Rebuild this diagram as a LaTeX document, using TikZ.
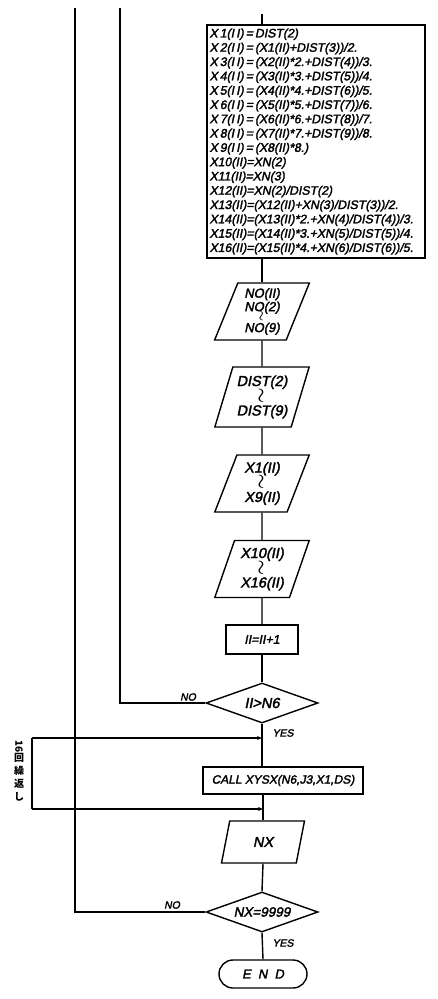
\documentclass[tikz,border=0pt]{standalone}
\usepackage{fontspec}
\usepackage{amsmath}
\setmainfont{Liberation Sans}
\newfontfamily\flowfont[FakeSlant=0.2,FakeBold=2.2]{Liberation Sans}
\newfontfamily\cjk{Noto Sans CJK JP}
\usetikzlibrary{shapes.geometric,arrows.meta}

% vertical "through" mark used in the I/O lists
\newcommand{\thru}{\rotatebox{90}{\fontsize{17}{17}\selectfont$\boldsymbol{\sim}$}}
\newcommand{\thrusmall}{\rotatebox{90}{\fontsize{13}{13}\selectfont$\boldsymbol{\sim}$}}

\begin{document}
\begin{tikzpicture}[x=1pt,y=-1pt,
  flow/.style={line width=1.4pt},
  txt/.style={font=\flowfont\fontsize{12.5}{13}\selectfont},
  iotxt/.style={font=\flowfont\fontsize{14.5}{14}\selectfont},
  iobox/.style={trapezium, trapezium left angle=70, trapezium right angle=110,
    trapezium stretches=true, draw, flow, iotxt, minimum width=95pt,
    minimum height=57pt, inner sep=0pt, align=center},
  procbox/.style={rectangle, draw, flow, txt, inner sep=2pt},
  decide/.style={diamond, draw, flow, font=\flowfont\fontsize{14.5}{14}\selectfont,
    aspect=2.8, inner sep=0pt, minimum width=112pt, minimum height=40pt},
  term/.style={rectangle, rounded corners=14pt, draw, flow, txt,
    minimum width=88pt, minimum height=28pt},
  lbl/.style={font=\flowfont\fontsize{10.5}{12}\selectfont, inner sep=0pt},
  arr/.style={flow, -{Stealth[length=5pt,width=4pt]}}
]
\useasboundingbox (0,0) rectangle (437,999);

% computation block
\node[procbox, minimum width=218pt, minimum height=233pt, text width=213pt,
      inner xsep=2pt, align=left, font=\flowfont\fontsize{12.3}{14.3}\selectfont]
  (big) at (316,141.5) {%
X\,1(I\,I)\,=\,DIST(2)\\
X\,2(I\,I)\,=\,(X1(II)+DIST(3))/2.\\
X\,3(I\,I)\,=\,(X2(II)*2.+DIST(4))/3.\\
X\,4(I\,I)\,=\,(X3(II)*3.+DIST(5))/4.\\
X\,5(I\,I)\,=\,(X4(II)*4.+DIST(6))/5.\\
X\,6(I\,I)\,=\,(X5(II)*5.+DIST(7))/6.\\
X\,7(I\,I)\,=\,(X6(II)*6.+DIST(8))/7.\\
X\,8(I\,I)\,=\,(X7(II)*7.+DIST(9))/8.\\
X\,9(I\,I)\,=\,(X8(II)*8.)\\
X10(II)=XN(2)\\
X11(II)=XN(3)\\
X12(II)=XN(2)/DIST(2)\\
X13(II)=(X12(II)+XN(3)/DIST(3))/2.\\
X14(II)=(X13(II)*2.+XN(4)/DIST(4))/3.\\
X15(II)=(X14(II)*3.+XN(5)/DIST(5))/4.\\
X16(II)=(X15(II)*4.+XN(6)/DIST(6))/5.};

% output lists
\node[iobox, font=\flowfont\fontsize{13}{13.5}\selectfont] (p1) at (262,311.5)
  {NO(II)\\NO(2)\\[-3pt]\thrusmall\\[-3pt]NO(9)};
\node[iobox, minimum height=60pt] (p2) at (262,397) {DIST(2)\\[-2pt]\thru\\[-2pt]DIST(9)};
\node[iobox] (p3) at (262,483.5) {X1(II)\\[-2pt]\thru\\[-2pt]X9(II)};
\node[iobox] (p4) at (262,569) {X10(II)\\[-2pt]\thru\\[-2pt]X16(II)};

\node[procbox, minimum width=72pt, minimum height=29pt] (inc) at (262,639.5) {II=II+1};
\node[decide] (d1) at (262,703) {II>N6};

\node[procbox, minimum width=160pt, minimum height=27pt, inner xsep=4pt,
      font=\flowfont\fontsize{12}{13}\selectfont]
  (call) at (283,780.5) {CALL XYSX(N6,J3,X1,DS)};

\node[iobox, minimum width=83pt, minimum height=42pt,
      trapezium left angle=76, trapezium right angle=104] (nx) at (263,842) {NX};
\node[decide, font=\flowfont\fontsize{13.5}{14}\selectfont] (d2) at (262,912) {NX=9999};
\node[term, font=\flowfont\fontsize{13}{13}\selectfont] (end) at (263,974) {E\;\;N\;\;D};

% return lines and loop bracket
\coordinate (top) at (262,14);
\coordinate (retA) at (75,8);
\coordinate (retB) at (120,8);
\coordinate (loopT) at (32,738);
\coordinate (loopB) at (32,809);

\draw[flow] (top) -- (top |- big.north);
\draw[flow] (big.south -| p1.north) -- (p1.north);
\draw[flow] (p1.south) -- (p2.north);
\draw[flow] (p2.south) -- (p3.north);
\draw[flow] (p3.south) -- (p4.north);
\draw[flow] (p4.south) -- (inc.north);
\draw[flow] (inc.south) -- (d1.north);
\draw[flow] (d1.west) -- (d1.west -| retB) -- (retB);
\draw[flow] (d1.south) -- (d1.south |- call.north);
\draw[flow] (call.south -| nx.north) -- (nx.north);
\draw[flow] (loopT) -- (loopB);
\draw[arr] (loopT) -- (loopT -| d1.south);
\draw[arr] (loopB) -- (loopB -| nx.north);
\draw[flow] (nx.south) -- (d2.north);
\draw[flow] (d2.west) -- (d2.west -| retA) -- (retA);
\draw[flow] (d2.south) -- (end.north);

% branch labels
\node[lbl] (no1) at (188,697) {NO};
\node[lbl] (yes1) at (283,733) {YES};
\node[lbl] (no2) at (172,905) {NO};
\node[lbl] (yes2) at (283,943) {YES};

% repetition note
\node[font=\cjk\bfseries\fontsize{10}{13}\selectfont, align=center, inner sep=0pt]
  (rep) at (19,771) {\rotatebox{-90}{16}\\回\\繰\\返\\し};
\end{tikzpicture}
\end{document}
